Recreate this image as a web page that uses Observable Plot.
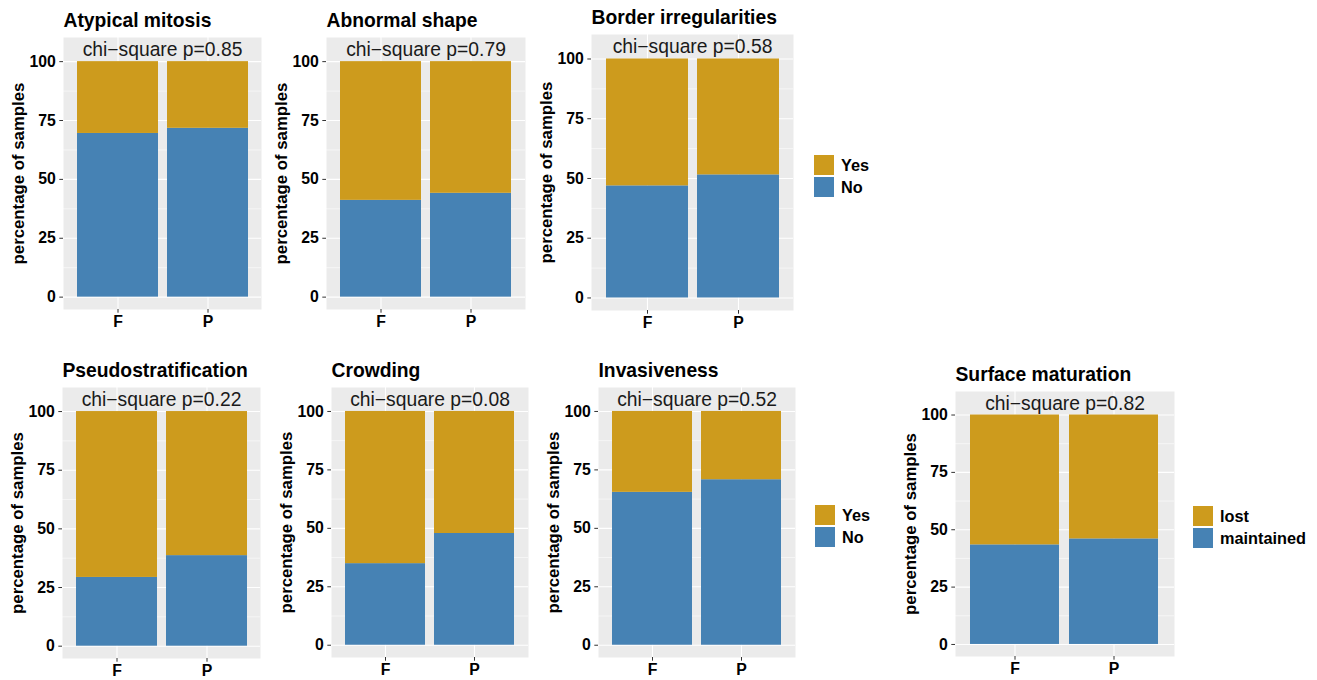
<!DOCTYPE html>
<html><head><meta charset="utf-8">
<script src="https://cdn.jsdelivr.net/npm/d3@7"></script>
<script src="https://cdn.jsdelivr.net/npm/@observablehq/plot@0.6"></script>
<style>
html,body{margin:0;padding:0;background:#fff;}
#root{position:relative;width:1317px;height:680px;overflow:hidden;font-family:"Liberation Sans",Arial,Helvetica,sans-serif;}
.abs{position:absolute;}
.key{position:absolute;width:20px;height:20px;}
.lab{position:absolute;font-size:16.3px;font-weight:bold;color:#000;line-height:20px;white-space:nowrap;}
</style></head>
<body><div id="root"></div>
<script>
// ---- data ----
const features = ["Atypical mitosis","Abnormal shape","Border irregularities","Pseudostratification","Crowding","Invasiveness","Surface maturation"];
const pValues = ["0.85","0.79","0.58","0.22","0.08","0.52","0.82"];
const groups = ["F","P"];
const bottomF = [69.5, 41.1, 46.9, 29.3, 34.9, 65.4, 43.4];   // % "No"/"maintained" in F
const bottomP = [71.7, 44.1, 51.5, 38.6, 47.8, 70.8, 46.0];   // % "No"/"maintained" in P
const levelsYesNo = ["Yes","No"];
const levelsSurface = ["lost","maintained"];
const panelLevels = [levelsYesNo, levelsYesNo, levelsYesNo, levelsYesNo, levelsYesNo, levelsYesNo, levelsSurface];
const yTicks = [0,25,50,75,100];
const yMinor = [12.5,37.5,62.5,87.5];
const yAxisTitle = "percentage of samples";

// ---- styles / layout ----
const GOLD = "#CD9B1D", BLUE = "#4682B4", PANEL = "#EBEBEB";
const FONT = "Liberation Sans, Arial, Helvetica, sans-serif";
const frames = [
  [63,37,261,309],[326,37,525,309],[591,34,793,310],
  [62,387,260,658],[331,387,528,657],[598,387,795,657],[955,391,1174,656]
];
const legends = [
  {levels: levelsYesNo, x: 814, y: 155},
  {levels: levelsYesNo, x: 815, y: 505},
  {levels: levelsSurface, x: 1193, y: 506}
];
const ML = 60, MT = 40, MB = 40, MR = 10;
const root = document.getElementById("root");

features.forEach((title, i) => {
  const [x0,y0,x1,y1] = frames[i];
  const levels = panelLevels[i];
  const rows = [];
  groups.forEach((g, gi) => {
    const b = gi === 0 ? bottomF[i] : bottomP[i];
    rows.push({group: g, level: levels[1], value: b});
    rows.push({group: g, level: levels[0], value: 100 - b});
  });
  const plot = Plot.plot({
    width: (x1 - x0) + ML + MR,
    height: (y1 - y0) + MT + MB,
    marginLeft: ML, marginRight: MR, marginTop: MT, marginBottom: MB,
    style: {fontFamily: FONT, background: "none", overflow: "visible"},
    x: {domain: groups, paddingInner: 0.1, paddingOuter: 0.15, label: null},
    y: {domain: [-5.25, 110.25], label: null},
    color: {domain: levels, range: [GOLD, BLUE]},
    marks: [
      Plot.frame({fill: PANEL, stroke: null}),
      Plot.ruleY(yMinor, {stroke: "white", strokeWidth: 0.55}),
      Plot.ruleY(yTicks, {stroke: "white", strokeWidth: 1.1}),
      Plot.ruleX(groups, {x: d => d, stroke: "white", strokeWidth: 1.1}),
      Plot.barY(rows, {x: "group", y: "value", fill: "level"}),
      Plot.text([{label: `chi\u2212square p=${pValues[i]}`, y: 105}], {
        y: "y", text: "label", frameAnchor: "middle", textAnchor: "middle", lineAnchor: "middle",
        fontSize: 19.3, fill: "#1a1a1a"
      }),
      Plot.axisY({ticks: yTicks, tickSize: 3.7, tickPadding: 4, fontSize: 15.8, fontWeight: "bold",
        stroke: "#333", fill: "black", label: null}),
      Plot.axisX({tickSize: 3.7, tickPadding: 2.5, fontSize: 15.8, fontWeight: "bold",
        stroke: "#333", fill: "black", label: null}),
      Plot.text([title], {text: d => d, frameAnchor: "top-left", textAnchor: "start", lineAnchor: "bottom",
        dy: -11, fontSize: 19.3, fontWeight: "bold", fill: "black"}),
      Plot.text([yAxisTitle], {text: d => d, frameAnchor: "left", textAnchor: "middle", lineAnchor: "middle",
        rotate: -90, dx: -44.5, fontSize: 16.8, fontWeight: "bold", fill: "black"})
    ]
  });
  plot.classList.add("abs");
  plot.style.left = (x0 - ML) + "px";
  plot.style.top = (y0 - MT) + "px";
  root.appendChild(plot);
});

legends.forEach(lg => {
  lg.levels.forEach((lv, k) => {
    const key = document.createElement("div");
    key.className = "key";
    key.style.left = lg.x + "px";
    key.style.top = (lg.y + k * 21.5) + "px";
    key.style.background = k === 0 ? GOLD : BLUE;
    root.appendChild(key);
    const lab = document.createElement("div");
    lab.className = "lab";
    lab.textContent = lv;
    lab.style.left = (lg.x + 27) + "px";
    lab.style.top = (lg.y + k * 21.5) + "px";
    root.appendChild(lab);
  });
});
</script>
</body></html>
